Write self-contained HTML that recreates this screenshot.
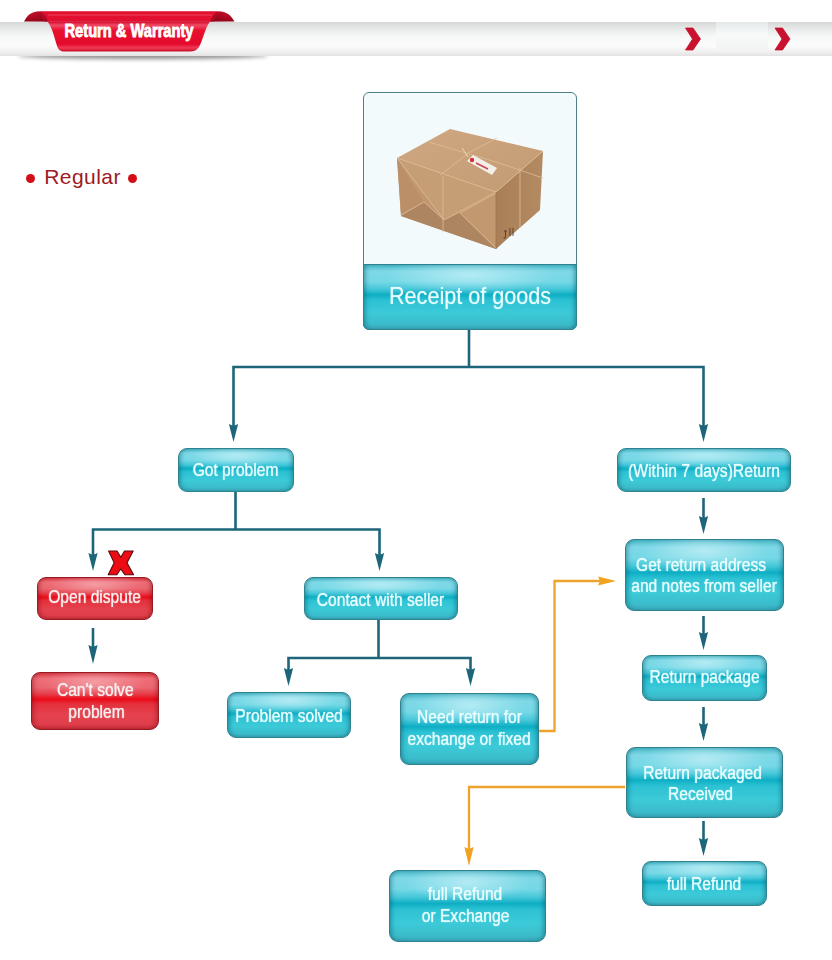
<!DOCTYPE html>
<html><head><meta charset="utf-8">
<style>
html,body{margin:0;padding:0;background:#fff;}
body{width:832px;height:960px;position:relative;overflow:hidden;font-family:"Liberation Sans",sans-serif;}
.abs{position:absolute;}
.box{position:absolute;box-sizing:border-box;border:1px solid #2f8290;border-radius:9px;
  background:
   radial-gradient(ellipse 40% 28% at 50% 16%, rgba(225,250,255,0.55), rgba(225,250,255,0) 100%),
   linear-gradient(to bottom,#4ab8c8 0%,#7ed8e6 10%,#76d8e6 26%,#48c8da 37%,#0eaec4 46.5%,#2cc2d4 55%,#3ccad8 75%,#3bbccb 92%,#38a8b8 100%);
  box-shadow: inset 4px 0 5px -3px rgba(0,80,100,0.55), inset -4px 0 5px -3px rgba(0,80,100,0.55);
  color:#ecfeff;}
.red{border-color:#9a1a22;
  background:
   radial-gradient(ellipse 40% 28% at 50% 16%, rgba(255,215,220,0.45), rgba(255,215,220,0) 100%),
   linear-gradient(to bottom,#d83a46 0%,#ee6e78 10%,#ea6670 26%,#e6404c 37%,#ec0a18 47%,#e4303c 55%,#e4424e 75%,#de3e4a 92%,#c42c38 100%);
  box-shadow: inset 4px 0 5px -3px rgba(120,0,10,0.5), inset -4px 0 5px -3px rgba(120,0,10,0.5);
  color:#fdf0f0;}
.t{position:absolute;left:-40px;right:-40px;text-align:center;font-size:18px;line-height:21.5px;white-space:nowrap;-webkit-text-stroke:0.15px currentColor;text-shadow:0 0 1.5px rgba(210,252,255,0.7);}
.t span{display:inline-block;transform:scaleX(0.866);transform-origin:50% 50%;}
</style></head>
<body>

<!-- header bar -->
<div class="abs" style="left:18px;top:52px;width:250px;height:7px;background:rgba(0,0,0,0.45);border-radius:50%;filter:blur(2.2px);"></div>
<div class="abs" style="left:0;top:22px;width:832px;height:34px;background:linear-gradient(to bottom,#d6d8d8 0%,#e6e8e8 18%,#f6f7f7 42%,#fcfcfc 70%,#f0f0f0 88%,#e2e2e2 100%);"></div>


<!-- ribbon -->
<svg class="abs" style="left:0;top:0" width="260" height="70">
  <defs>
    <linearGradient id="rg" x1="0" y1="0" x2="0" y2="1">
      <stop offset="0" stop-color="#d4062a"/>
      <stop offset="0.12" stop-color="#f04a64"/>
      <stop offset="0.3" stop-color="#e8102f"/>
      <stop offset="0.75" stop-color="#e40a2c"/>
      <stop offset="0.88" stop-color="#f03a55"/>
      <stop offset="1" stop-color="#c80a26"/>
    </linearGradient>
    <linearGradient id="eg" x1="0" y1="0" x2="0" y2="1">
      <stop offset="0" stop-color="#d41030"/>
      <stop offset="1" stop-color="#8e0618"/>
    </linearGradient>
    <linearGradient id="egL" x1="0" y1="0" x2="1" y2="0">
      <stop offset="0" stop-color="#c00c28" stop-opacity="0"/>
      <stop offset="1" stop-color="#7a0414" stop-opacity="0.7"/>
    </linearGradient>
    <linearGradient id="egR" x1="1" y1="0" x2="0" y2="0">
      <stop offset="0" stop-color="#c00c28" stop-opacity="0"/>
      <stop offset="1" stop-color="#7a0414" stop-opacity="0.7"/>
    </linearGradient>
  </defs>
  <path d="M24,21.5 C28,14 32,11.5 40,11.5 L218,11.5 C226,11.5 230,14 234.5,21.5 Z" fill="url(#eg)"/>
  <path d="M47.5,21.5 L210,21.5 C205,28 203,40 199,47 C197,50 194,51.5 190,51.5 L64,51.5 C60,51.5 58,49 57,46 C54,36 52,27 47.5,21.5 Z" fill="url(#rg)"/>
  <path d="M40,11.5 L218,11.5 L214,21.5 L44,21.5 Z" fill="#e20f30"/>
  <path d="M24,21.5 C28,14 32,11.5 40,11.5 C44,13 46,17 48,21.5 Z" fill="url(#egL)"/>
  <path d="M234.5,21.5 C230,14 226,11.5 218,11.5 C214,13 212,17 210,21.5 Z" fill="url(#egR)"/>
  <path d="M48,15 L212,15" stroke="#f56a80" stroke-width="1.2" opacity="0.6"/>
  <text x="129" y="37.3" text-anchor="middle" font-family="Liberation Sans" font-weight="bold" font-size="18" fill="#fff" stroke="#fff" stroke-width="0.9" transform="translate(129,0) scale(0.815,1) translate(-129,0)">Return &amp; Warranty</text>
</svg>

<!-- chevrons -->
<svg class="abs" style="left:0;top:0" width="832" height="70">
  <defs><linearGradient id="pg" x1="0" y1="0" x2="0" y2="1"><stop offset="0" stop-color="#e4e8e8"/><stop offset="0.45" stop-color="#f8fafa"/><stop offset="1" stop-color="#f2f4f4"/></linearGradient></defs>
  <rect x="716" y="22" width="52" height="28" fill="url(#pg)"/>
  <path d="M685.5,28 L693,28 L700.5,39 L693,50 L685.5,50 L692.5,39 Z" fill="#c8122e" stroke="#c8122e" stroke-width="0.8" stroke-linejoin="round"/>
  <path d="M775,28 L782.5,28 L790,39 L782.5,50 L775,50 L782,39 Z" fill="#c8122e" stroke="#c8122e" stroke-width="0.8" stroke-linejoin="round"/>
</svg>

<!-- Regular -->
<div class="abs" style="left:26.3px;top:173.6px;width:9px;height:9px;border-radius:50%;background:#d10f14;"></div>
<div class="abs" style="left:128.2px;top:173.9px;width:9px;height:9px;border-radius:50%;background:#d10f14;"></div>
<div class="abs" style="left:44.2px;top:164.6px;font-size:21px;line-height:24px;letter-spacing:0.45px;color:#9e1a22;white-space:nowrap;">Regular</div>

<!-- connector lines -->
<svg class="abs" style="left:0;top:0" width="832" height="960">
  <g stroke="#1d6679" stroke-width="2.6" fill="none">
    <path d="M469,330 V367"/>
    <path d="M233.5,430 V367 H703.5 V430"/>
    <path d="M235.5,492 V529.5"/>
    <path d="M93,560 V529.5 H379.5 V560"/>
    <path d="M93,628 V652"/>
    <path d="M378.5,620 V658"/>
    <path d="M288.5,675 V658 H470.5 V675"/>
    <path d="M703.5,498 V522"/>
    <path d="M703.5,616 V638"/>
    <path d="M703.5,707 V729"/>
    <path d="M703.5,821 V844"/>
  </g>
  <g fill="#1d6679">
    <path d="M228.9,424 L233.5,426.0 L238.1,424 L233.5,442 Z"/><path d="M698.9,424 L703.5,426.0 L708.1,424 L703.5,442 Z"/><path d="M88.4,553 L93,555.0 L97.6,553 L93,571 Z"/><path d="M374.9,553 L379.5,555.0 L384.1,553 L379.5,571 Z"/><path d="M88.4,645 L93,647.0 L97.6,645 L93,664 Z"/><path d="M283.9,668 L288.5,670.0 L293.1,668 L288.5,686 Z"/><path d="M465.9,668 L470.5,670.0 L475.1,668 L470.5,686 Z"/><path d="M698.9,516 L703.5,518.0 L708.1,516 L703.5,534 Z"/><path d="M698.9,632 L703.5,634.0 L708.1,632 L703.5,650 Z"/><path d="M698.9,723 L703.5,725.0 L708.1,723 L703.5,741 Z"/><path d="M698.9,838 L703.5,840.0 L708.1,838 L703.5,856 Z"/>
  </g>
  <g stroke="#eea42c" stroke-width="2.3" fill="none">
    <path d="M538,731 H554.5 V581 H604"/>
    <path d="M625,787 H469 V853"/>
  </g>
  <g fill="#f0a220">
    <path d="M598,576.4 L600.0,581 L598,585.6 L616,581 Z"/><path d="M464.4,847 L469,849.0 L473.6,847 L469,866 Z"/>
  </g>
</svg>

<!-- Receipt box -->
<div class="abs" style="left:363px;top:92px;width:214px;height:238px;box-sizing:border-box;border:1px solid #4f8089;border-radius:6px;background:#f3fafc;overflow:hidden;">
<svg class="abs" style="left:-364px;top:-93px" width="832" height="340">
  <defs>
    <linearGradient id="topf" x1="0" y1="0" x2="1" y2="1">
      <stop offset="0" stop-color="#cfa882"/><stop offset="1" stop-color="#c29a72"/>
    </linearGradient>
    <linearGradient id="leftf" x1="0" y1="0" x2="1" y2="0">
      <stop offset="0" stop-color="#c49a72"/><stop offset="1" stop-color="#bb9068"/>
    </linearGradient>
    <linearGradient id="rightf" x1="0" y1="0" x2="1" y2="0">
      <stop offset="0" stop-color="#a97f58"/><stop offset="1" stop-color="#b48a62"/>
    </linearGradient>
  </defs>
  <path d="M397,158 L450,129 L543,151 L496,192 Z" fill="url(#topf)"/>
  <path d="M397,158 L496,192 L496,249 L401,216 Z" fill="url(#leftf)"/>
  <path d="M496,192 L543,151 L540,210 L496,249 Z" fill="url(#rightf)"/>
  <!-- flaps on left face -->
  <path d="M401,216 L424,202 L444,220 L460,213 L496,249 Z" fill="#ad8560"/>
  <path d="M397,158 L424,202 L401,216 Z" fill="#bb9068"/>
  <path d="M397,158 L496,192 L444,220 Z" fill="#c69e76"/>
  <path d="M496,192 L496,249 L460,213 Z" fill="#c29870"/>
  <!-- folds / edges -->
  <g stroke="#dcc09a" stroke-width="0.9" fill="none" opacity="0.85">
    <path d="M398,159 L444,220 L496,192"/>
    <path d="M401,215 L424,202 L444,220"/>
    <path d="M496,193 L460,213 L496,248"/>
    <path d="M443,176 V232"/>
    <path d="M429,142 L496,162 L543,178"/>
    <path d="M440,175 L470,152 L497,138"/>
    <path d="M397,158 L496,192 L543,151"/>
    <path d="M520,168 V228"/>
  </g>
  <path d="M496,192 V249" stroke="#9c7450" stroke-width="0.8"/>
  <!-- tag -->
  <path d="M467,161 L473,155 L497,168 L492,175 Z" fill="#f3efe8"/>
  <circle cx="472" cy="160" r="2.2" fill="#d0303a"/>
  <path d="M476,163 L488,169" stroke="#d04050" stroke-width="1.4"/>
  <path d="M462,148 L468,157" stroke="#e8d8bc" stroke-width="1"/>
  <!-- marks -->
  <path d="M504,231 h3 M505.5,231 v6 q0,2 -2,1 M510,228 v8 M513,228 v8" stroke="#4a3020" stroke-width="0.8" fill="none"/>
</svg>
</div>
<div class="box" style="left:363px;top:264px;width:214px;height:66px;border-radius:0 0 6px 6px;">
  <div class="t" style="top:17px;font-size:24px;line-height:28px;-webkit-text-stroke:0;text-shadow:0 0 1.5px rgba(210,252,255,0.6)"><span style="transform:scaleX(0.9)">Receipt of goods</span></div>
</div>

<!-- boxes -->
<div class="box" style="left:178px;top:448px;width:116px;height:44px;"><div class="t" style="top:11px"><span>Got problem</span></div></div>
<div class="box" style="left:617px;top:448px;width:174px;height:44px;"><div class="t" style="top:11.5px"><span style="transform:scaleX(0.874)">(Within 7 days)Return</span></div></div>
<div class="box red" style="left:37px;top:577px;width:116px;height:43px;"><div class="t" style="top:9px"><span>Open dispute</span></div></div>
<div class="box red" style="left:31px;top:672px;width:128px;height:58px;"><div class="t" style="top:6.2px;line-height:22.2px"><span>Can't solve</span><br><span style="position:relative;left:2px">problem</span></div></div>
<div class="box" style="left:304px;top:577px;width:154px;height:43px;"><div class="t" style="top:12px"><span>Contact with seller</span></div></div>
<div class="box" style="left:227px;top:692px;width:124px;height:46px;"><div class="t" style="top:13px"><span>Problem solved</span></div></div>
<div class="box" style="left:399.5px;top:692.5px;width:139.5px;height:72.5px;"><div class="t" style="top:13.5px"><span>Need return for</span><br><span>exchange or fixed</span></div></div>
<div class="box" style="left:625px;top:539px;width:159px;height:72px;"><div class="t" style="top:14.5px"><span style="position:relative;left:-3px">Get return address</span><br><span>and notes from seller</span></div></div>
<div class="box" style="left:642px;top:655px;width:125px;height:46px;"><div class="t" style="top:11px"><span>Return package</span></div></div>
<div class="box" style="left:626px;top:747px;width:157px;height:71px;"><div class="t" style="top:14.5px"><span style="position:relative;left:-1.5px">Return packaged</span><br><span style="position:relative;left:-3.5px">Received</span></div></div>
<div class="box" style="left:642px;top:861px;width:125px;height:45px;"><div class="t" style="top:12px"><span>full Refund</span></div></div>
<div class="box" style="left:389px;top:870px;width:157px;height:72px;"><div class="t" style="top:11.5px;line-height:22.5px"><span style="position:relative;left:-2.5px">full Refund</span><br><span style="position:relative;left:-1.5px">or Exchange</span></div></div>

<!-- X mark -->
<svg class="abs" style="left:104px;top:548px" width="34" height="30">
  <path d="M4.6,3 L13,3 L16.8,9.2 L20.5,3 L29.2,3 L23,14.8 L29.6,26.8 L21,26.8 L16.7,21 L12.8,26.8 L4.2,26.8 L10.2,14.8 Z" fill="#ec0c14" stroke="#5a0a0e" stroke-width="1.1" stroke-linejoin="round"/>
</svg>

</body></html>
